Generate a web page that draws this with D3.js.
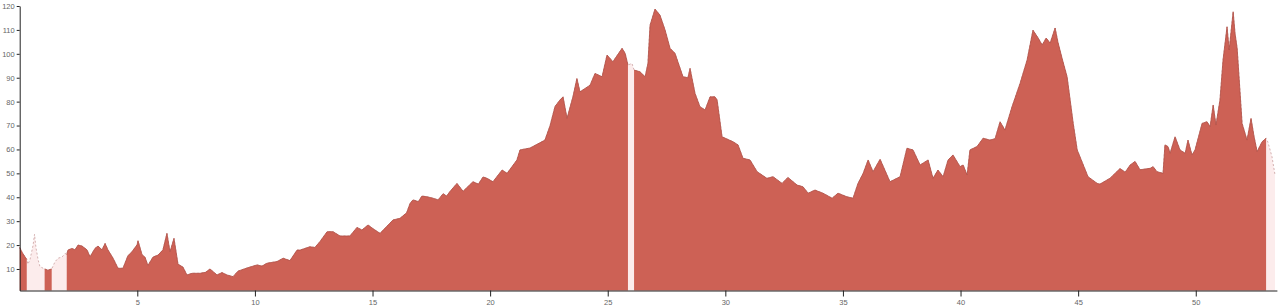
<!DOCTYPE html>
<html>
<head>
<meta charset="utf-8">
<script src="https://cdn.jsdelivr.net/npm/d3@7"></script>
<style>
  html, body { margin: 0; padding: 0; background: #fff; }
  svg { display: block; }
  .axis text { font-family: "Liberation Sans", Arial, sans-serif; font-size: 7.5px; fill: #666; }
  .axis path, .axis line { stroke: #222; }
</style>
</head>
<body>
<svg id="chart" width="1280" height="307"></svg>
<script>
// distance along track
const distance = [
  0.00,0.10,0.23,0.30,0.35,0.44,0.57,0.63,0.69,0.78,0.86,1.06,1.20,1.36,1.50,1.63,1.80,1.93,2.00,
  2.05,2.22,2.35,2.48,2.65,2.86,2.99,3.20,3.33,3.50,3.63,3.75,3.97,4.18,4.39,4.60,4.77,4.99,5.03,
  5.20,5.33,5.45,5.67,5.88,6.09,6.26,6.39,6.56,6.73,6.94,7.11,7.33,7.67,7.90,8.09,8.39,8.60,8.81,9.07,9.28,
  9.66,10.09,10.30,10.51,10.75,10.94,11.20,11.49,11.79,11.92,12.34,12.55,12.76,13.07,13.32,13.62,14.04,14.34,14.55,
  14.81,15.00,15.15,15.32,15.87,16.17,16.45,16.60,16.72,16.95,17.10,17.32,17.57,17.79,18.00,18.15,18.30,18.59,18.85,19.27,19.50,19.70,19.87,20.12,20.51,20.72,
  21.14,21.27,21.70,22.33,22.55,22.76,22.97,23.10,23.27,23.52,23.69,23.82,24.25,24.46,24.76,24.97,
  25.22,25.61,25.74,25.86,26.03,26.12,26.37,26.59,26.71,26.80,27.01,27.22,27.44,27.65,27.86,28.20,
  28.41,28.50,28.71,28.92,29.14,29.35,29.56,29.65,29.86,30.33,30.54,30.75,31.05,31.35,31.77,32.03,
  32.41,32.66,33.05,33.30,33.52,33.81,34.15,34.54,34.79,35.17,35.43,35.64,35.86,36.07,36.28,36.58,
  37.00,37.43,37.72,37.98,38.28,38.62,38.83,39.04,39.26,39.47,39.68,39.98,40.11,40.28,40.40,40.70,
  40.96,41.25,41.47,41.68,41.89,42.19,42.53,42.83,43.08,43.30,43.47,43.64,43.81,44.02,44.14,44.32,
  44.53,44.79,44.96,45.42,45.81,45.93,46.36,46.78,47.00,47.21,47.42,47.63,48.06,48.19,48.35,48.61,
  48.69,48.82,48.91,49.12,49.33,49.55,49.67,49.84,49.97,50.27,50.48,50.61,50.74,50.86,51.03,51.16,
  51.33,51.42,51.59,51.67,51.76,51.84,51.97,52.18,52.35,52.48,52.61,52.82,52.99,53.07,53.24,53.37
];
// elevation
const elevation = [
  19,17,15,14,12,14,20,24.5,19,14,11,10,9.5,10,13,14.5,15,16.5,16,
  17.9,18.6,18,20,19.6,18,15.1,18.6,19.6,18,20.7,18,14.5,10.3,10.3,15.5,17.2,20.1,21.8,
  16,14.9,11.5,15,15.8,18,24.9,17.2,22.8,12,10.8,7.5,8.2,8.2,8.6,10,7.5,8.5,7.5,6.8,9.1,
  10.4,11.7,11.2,12.4,12.8,13.1,14.5,13.5,17.9,17.9,19.3,19,21.4,25.6,25.6,23.8,23.8,27.4,26.3,
  28.4,27,26,24.9,30.5,31.2,33.5,37.5,38.9,38.2,40.5,40.2,39.6,38.9,41.5,40.5,42.5,45.8,42.5,46.5,45.5,48.5,47.9,46.5,51.4,50,
  55.6,59.8,60.6,63.9,70,78,80.7,82,73,82,89.7,84.1,86.9,91.8,90.4,99.5,
  96.7,102.3,100.2,95.3,96,93.2,92.5,90.4,96,112,118.7,116.2,109.9,102.3,100.2,90.4,
  90,93.9,83.5,77.9,76.5,82,82,80.7,65.3,63.2,61.9,56.3,55.6,50.7,47.9,48.6,
  45.8,48.3,45.1,44.4,41.7,43,41.7,39.6,41.7,40.2,39.6,45.8,50,55.6,50.7,55.9,
  46.5,48.6,60.5,59.8,53.5,55.6,47.9,51.4,48.6,55.6,57.7,52.8,53.5,49.3,59.8,61.2,
  64.7,63.9,64.5,71.6,68.1,77.9,87.6,97.4,109.9,106.6,103.7,106.6,104.5,110.8,104.9,98,
  90.4,70.9,59.8,48.6,45.8,45.5,48,52,50.5,53.5,55,51.5,52.1,52.8,50.7,50,
  61.9,61.2,58.4,65.3,59.8,58.4,63.9,57.7,59.8,70.9,71.6,69.5,78.6,70.2,80.7,97.4,
  111.3,101.6,117.6,108.5,102.3,90.4,70.9,63.9,73,65.3,59.1,63.2,64.7,63,57,49.3
];
// stretches without reliable data (start, end)
const gapStart = [0.30, 1.36, 25.86, 52.99];
const gapEnd   = [1.06, 2.00, 26.12, 53.37];
const xTicks = [5,10,15,20,25,30,35,40,45,50];
const yTicks = [10,20,30,40,50,60,70,80,90,100,110,120];

const data = distance.map((d, i) => ({ x: d, y: elevation[i] }));
const inGap = x => gapStart.some((s, i) => x > s + 1e-9 && x < gapEnd[i] - 1e-9);

const svg = d3.select("#chart");
const x = d3.scaleLinear().domain([0, 53.45]).range([19.7, 1276.9]);
const y = d3.scaleLinear().domain([1, 120]).range([290.5, 6]);

const area = d3.area().x(d => x(d.x)).y0(y(1)).y1(d => y(d.y));
const line = d3.line().x(d => x(d.x)).y(d => y(d.y));

// background (all data, light)
svg.append("path").datum(data).attr("d", area)
  .attr("fill", "#fcecec").attr("stroke", "none");
svg.append("path").datum(data).attr("d", line)
  .attr("fill", "none").attr("stroke", "#cfa9a9").attr("stroke-width", 0.9)
  .attr("stroke-dasharray", "2,2");

// measured data
const areaDef = d3.area().defined(d => !inGap(d.x)).x(d => x(d.x)).y0(y(1)).y1(d => y(d.y));
const lineDef = d3.line().defined(d => !inGap(d.x)).x(d => x(d.x)).y(d => y(d.y));
svg.append("path").datum(data).attr("d", areaDef)
  .attr("fill", "#cd6155").attr("stroke", "none");
svg.append("path").datum(data).attr("d", lineDef)
  .attr("fill", "none").attr("stroke", "#b04f45").attr("stroke-width", 0.8);

// axes
svg.append("g").attr("class", "axis")
  .attr("transform", `translate(0,${y(1)})`)
  .call(d3.axisBottom(x).tickValues(xTicks).tickSize(6).tickSizeOuter(0));
svg.append("g").attr("class", "axis")
  .attr("transform", `translate(${x(0)},0)`)
  .call(d3.axisLeft(y).tickValues(yTicks).tickSize(3).tickSizeOuter(0).tickPadding(2));
</script>
</body>
</html>
